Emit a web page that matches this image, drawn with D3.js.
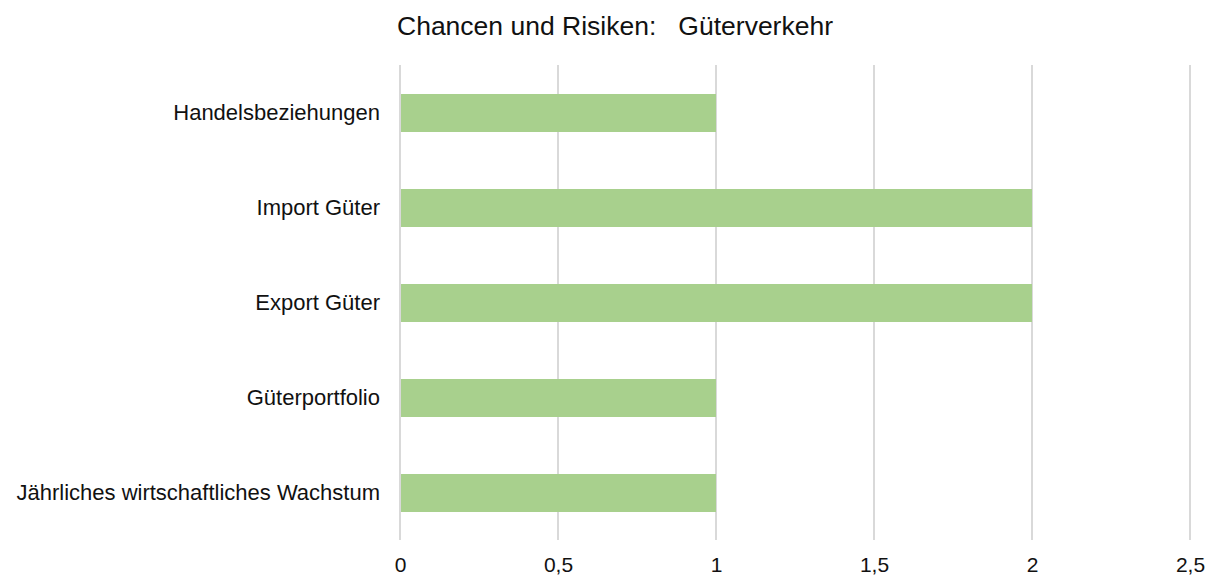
<!DOCTYPE html>
<html>
<head>
<meta charset="utf-8">
<script src="https://cdn.jsdelivr.net/npm/d3@7"></script>
<style>
  body { margin: 0; background: #ffffff; }
  text { font-family: "Liberation Sans", Arial, sans-serif; fill: #111111; }
</style>
</head>
<body>
<script>
// data
var categories = ["Handelsbeziehungen", "Import Güter", "Export Güter", "Güterportfolio", "Jährliches wirtschaftliches Wachstum"];
var values = [1, 2, 2, 1, 1];
var tickValues = [0, 0.5, 1, 1.5, 2, 2.5];
var chartTitle = "Chancen und Risiken:\u00a0\u00a0\u00a0Güterverkehr";

var w = 1210, h = 580;
var margin = {top: 65, right: 20, bottom: 40, left: 400};

var svg = d3.select("body").append("svg")
  .attr("width", w)
  .attr("height", h);

var x = d3.scaleLinear()
  .domain([0, 2.5])
  .range([margin.left, w - margin.right]);

var y = d3.scaleBand()
  .domain(categories)
  .range([margin.top, h - margin.bottom])
  .paddingInner(0.6)
  .paddingOuter(0.3);

// gridlines
svg.append("g").selectAll("line")
  .data(tickValues)
  .enter().append("line")
  .attr("x1", function(d) { return x(d); })
  .attr("x2", function(d) { return x(d); })
  .attr("y1", margin.top)
  .attr("y2", h - margin.bottom)
  .style("stroke", "#d9d9d9")
  .style("stroke-width", 2);

// bars
svg.append("g").selectAll("rect")
  .data(categories)
  .enter().append("rect")
  .attr("x", x(0) + 1)
  .attr("y", function(d) { return y(d) + 0.5; })
  .attr("width", function(d, i) { return x(values[i]) - x(0) - 1; })
  .attr("height", y.bandwidth())
  .style("fill", "#a8d08d");

// x axis labels
var xAxis = d3.axisBottom(x)
  .tickValues(tickValues)
  .tickSize(0)
  .tickPadding(0)
  .tickFormat(function(d) { return String(d).replace(".", ","); });

var gx = svg.append("g")
  .attr("transform", "translate(0," + (h - margin.bottom + 17) + ")")
  .call(xAxis);
gx.select(".domain").remove();
gx.selectAll("text")
  .style("font-family", "'Liberation Sans', Arial, sans-serif")
  .style("font-size", "21px")
  .style("fill", "#111111");

// y axis labels
var yAxis = d3.axisLeft(y).tickSize(0).tickPadding(20);
var gy = svg.append("g")
  .attr("transform", "translate(" + margin.left + ",0)")
  .call(yAxis);
gy.select(".domain").remove();
gy.selectAll("text")
  .style("font-family", "'Liberation Sans', Arial, sans-serif")
  .style("font-size", "22px")
  .style("fill", "#111111");

// title
svg.append("text")
  .attr("x", 615)
  .attr("y", 35)
  .attr("text-anchor", "middle")
  .style("font-size", "26.5px")
  .text(chartTitle);
</script>
</body>
</html>
